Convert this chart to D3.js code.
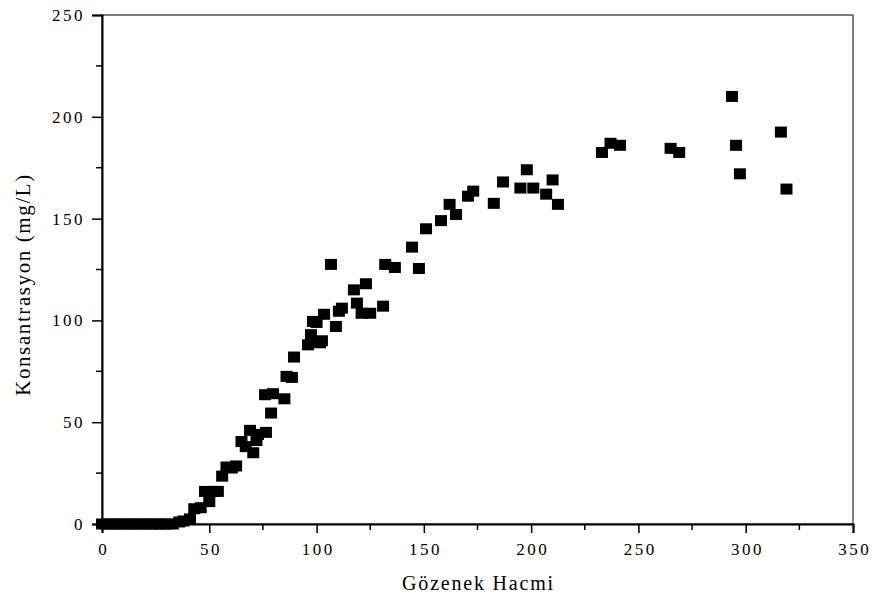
<!DOCTYPE html>
<html>
<head>
<meta charset="utf-8">
<style>
  body { margin: 0; background: #fff; }
  text { font-family: "Liberation Serif", "Times New Roman", serif; fill: #000; }
</style>
</head>
<body>
<div id="chart"></div>
<script src="https://cdn.jsdelivr.net/npm/d3@7"></script>
<script>
// pore volume (x) and concentration mg/L (y)
const poreVolume = [0, 2.5, 5, 7.5, 10, 12.5, 15, 17.5, 20, 22.5, 25, 27.5, 30, 33,
  36, 38, 41, 43, 46, 48, 50, 52, 54, 56, 58, 60.5, 62.5, 65, 67, 69, 70.5, 72, 72.7,
  76, 76.4, 78.8, 79.7, 85, 86, 88.5, 89.5, 96, 97.4, 98.3, 100, 101.6, 102.5, 103.5,
  106.7, 109, 110.4, 111.8, 117.4, 118.8, 121, 123, 125, 131, 132, 136.5, 144.5, 147.7,
  151, 158, 162, 165, 170.6, 173, 182.6, 186.9, 195, 198, 201, 207, 210, 212.5,
  233, 237, 241.4, 265, 269, 293.6, 295.5, 297.3, 316.4, 319];
const concentration = [0, 0, 0, 0, 0, 0, 0, 0, 0, 0, 0, 0, 0, 0,
  1, 1.5, 2.5, 7.5, 8, 16, 11, 16, 16, 23.5, 28, 27.5, 28.5, 40.5, 38, 46, 35, 41, 44,
  63.5, 45, 54.5, 64, 61.5, 72.5, 72, 82, 88, 93, 99.5, 99, 89, 90, 103,
  127.5, 97, 104.5, 106, 115, 108.5, 103.5, 118, 103.5, 107, 127.5, 126, 136, 125.5,
  145, 149, 157, 152, 161, 163.5, 157.5, 168, 165, 174, 165, 162, 169, 157,
  182.5, 187, 186, 184.5, 182.5, 210, 186, 172, 192.5, 164.5];

const xTicks = [0, 50, 100, 150, 200, 250, 300, 350];
const yTicks = [0, 50, 100, 150, 200, 250];

const W = 872, H = 603;
const m = { left: 102, right: 19, top: 15, bottom: 79 };

const svg = d3.select("#chart").append("svg")
  .attr("width", W).attr("height", H);

const x = d3.scaleLinear().domain([0, 350]).range([m.left, W - m.right]);
const y = d3.scaleLinear().domain([0, 250]).range([H - m.bottom, m.top]);

// frame
svg.append("rect")
  .attr("x", x(0)).attr("y", y(250))
  .attr("width", x(350) - x(0)).attr("height", y(0) - y(250))
  .attr("fill", "none").attr("stroke", "#000").attr("stroke-width", 1);

function styleAxis(g) {
  g.attr("font-family", null);
  g.select(".domain").attr("stroke-width", 2);
  g.selectAll(".tick line").attr("stroke-width", 1.5);
  g.selectAll(".tick text").attr("font-size", 17).style("letter-spacing", "2.5px");
}

// x axis
const xAxis = svg.append("g").attr("transform", `translate(0,${y(0)})`);
xAxis.call(d3.axisBottom(x).tickValues(xTicks).tickSizeOuter(0).tickSize(9).tickPadding(10))
  .call(styleAxis);
xAxis.selectAll(".tick text").attr("dx", "1.2px");
xAxis.selectAll(".minor").data(d3.range(25, 350, 50)).enter().append("line")
  .attr("x1", d => x(d)).attr("x2", d => x(d))
  .attr("y1", 0).attr("y2", 6).attr("stroke", "#000").attr("stroke-width", 1.5);

// y axis
const yAxis = svg.append("g").attr("transform", `translate(${x(0)},0)`);
yAxis.call(d3.axisLeft(y).tickValues(yTicks).tickSizeOuter(0).tickSize(10).tickPadding(7))
  .call(styleAxis);
yAxis.selectAll(".minor").data(d3.range(25, 250, 50)).enter().append("line")
  .attr("y1", d => y(d)).attr("y2", d => y(d))
  .attr("x1", 0).attr("x2", -6).attr("stroke", "#000").attr("stroke-width", 1.5);

// points
const pts = poreVolume.map((v, i) => [v, concentration[i]]);
svg.append("g").selectAll("rect").data(pts).enter().append("rect")
  .attr("x", d => x(d[0]) - 6)
  .attr("y", d => y(d[1]) - 5.5)
  .attr("width", 12).attr("height", 11)
  .attr("fill", "#000");

// titles
svg.append("text")
  .attr("x", (x(0) + x(350)) / 2 + 1).attr("y", 590)
  .attr("text-anchor", "middle").attr("font-size", 20)
  .style("letter-spacing", "1.8px")
  .text("Gözenek Hacmi");

svg.append("text")
  .attr("transform", `translate(30,${(y(0) + y(250)) / 2 + 15}) rotate(-90)`)
  .attr("text-anchor", "middle").attr("font-size", 21)
  .style("letter-spacing", "1.6px")
  .text("Konsantrasyon (mg/L)");
</script>
</body>
</html>
